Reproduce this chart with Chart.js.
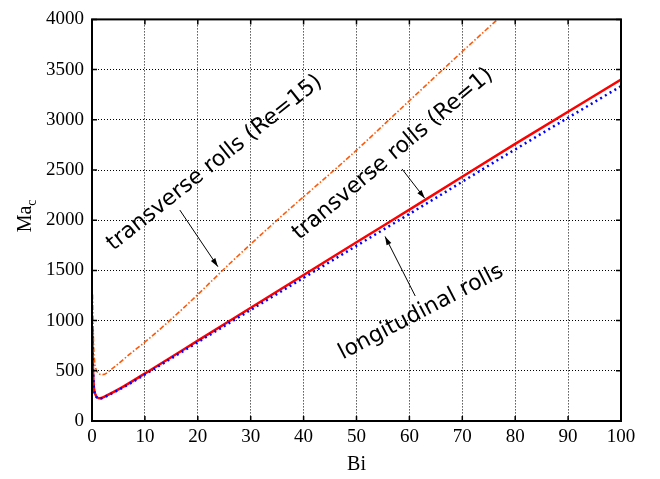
<!DOCTYPE html>
<html>
<head>
<meta charset="utf-8">
<script src="https://cdn.jsdelivr.net/npm/chart.js@4/dist/chart.umd.min.js"></script>
<style>
  body { margin: 0; background: #fff; }
  canvas { display: block; }
</style>
</head>
<body>
<canvas id="macChart" width="660" height="479"></canvas>
<script>
// values (Bi on x, Ma_c on y)
const biOrange = [0.1, 0.2, 0.3, 0.5, 0.9, 2.0, 4, 7, 11, 18, 26, 35.5, 48.8, 60, 70, 80];
const maOrange = [1260, 1000, 760, 590, 500, 462, 530, 660, 830, 1160, 1566, 2025, 2640, 3190, 3680, 4160];

const biRed = [0.03, 0.15, 0.3, 0.6, 1.5, 3, 6, 11, 20, 33.6, 50, 62.9, 80, 100];
const maRed = [915, 600, 380, 270, 226, 260, 345, 506, 800, 1245, 1780, 2200, 2760, 3400];

const biBlue = [0.03, 0.15, 0.3, 0.6, 1.5, 3, 6, 11, 20, 33.6, 50, 62.9, 80, 100];
const maBlue = [900, 590, 370, 265, 222, 255, 338, 495, 785, 1222, 1745, 2155, 2705, 3335];

const xTicks = [0, 10, 20, 30, 40, 50, 60, 70, 80, 90, 100];
const yTicks = [0, 500, 1000, 1500, 2000, 2500, 3000, 3500, 4000];

// annotation texts, anchored (left end of baseline) in data units
const labels = [
    { text: 'transverse rolls (Re=15)', bi: 4.0, ma: 1693, angle: -38.5 },
    { text: 'transverse rolls (Re=1)', bi: 39.2, ma: 1800, angle: -40 },
    { text: 'longitudinal rolls', bi: 47.4, ma: 613, angle: -27.5 }
];
const arrows = [
    { from: [16.6, 2101], to: [23.8, 1537] },
    { from: [58.6, 2510], to: [62.9, 2218] },
    { from: [61.1, 1245], to: [55.4, 1838] }
];

function toPoints(xs, ys) {
    return xs.map((x, i) => ({ x: x, y: ys[i] }));
}

const serif = "'Liberation Serif', 'Times New Roman', serif";

const framePlugin = {
    id: 'frame',
    afterDraw(chart) {
        const ctx = chart.ctx;
        const a = chart.chartArea;
        const xs = chart.scales.x, ys = chart.scales.y;
        ctx.save();
        // inward ticks
        ctx.strokeStyle = '#000';
        ctx.lineWidth = 1.5;
        ctx.beginPath();
        xTicks.forEach(v => {
            const px = xs.getPixelForValue(v);
            ctx.moveTo(px, a.bottom); ctx.lineTo(px, a.bottom - 5);
            ctx.moveTo(px, a.top); ctx.lineTo(px, a.top + 5);
        });
        yTicks.forEach(v => {
            const py = ys.getPixelForValue(v);
            ctx.moveTo(a.left, py); ctx.lineTo(a.left + 5, py);
            ctx.moveTo(a.right, py); ctx.lineTo(a.right - 5, py);
        });
        ctx.stroke();
        // box
        ctx.lineWidth = 2;
        ctx.strokeRect(a.left, a.top, a.right - a.left, a.bottom - a.top);

        // axis titles
        ctx.fillStyle = '#000';
        ctx.font = '20px ' + serif;
        ctx.textAlign = 'center';
        ctx.textBaseline = 'alphabetic';
        ctx.fillText('Bi', (a.left + a.right) / 2, 470);

        ctx.save();
        ctx.translate(31, 215);
        ctx.rotate(-Math.PI / 2);
        ctx.textAlign = 'left';
        ctx.font = '20px ' + serif;
        const w = ctx.measureText('Ma').width;
        ctx.fillText('Ma', -w / 2 - 4, 0);
        ctx.font = '14px ' + serif;
        ctx.fillText('c', w / 2 - 4, 5);
        ctx.restore();

        // annotations
        ctx.font = "22px 'DejaVu Sans', sans-serif";
        ctx.textAlign = 'left';
        ctx.textBaseline = 'alphabetic';
        labels.forEach(l => {
            ctx.save();
            ctx.translate(xs.getPixelForValue(l.bi), ys.getPixelForValue(l.ma));
            ctx.rotate(l.angle * Math.PI / 180);
            ctx.fillText(l.text, 0, 0);
            ctx.restore();
        });
        ctx.lineWidth = 1;
        arrows.forEach(ar => {
            const x1 = xs.getPixelForValue(ar.from[0]), y1 = ys.getPixelForValue(ar.from[1]);
            const x2 = xs.getPixelForValue(ar.to[0]), y2 = ys.getPixelForValue(ar.to[1]);
            const ang = Math.atan2(y2 - y1, x2 - x1);
            ctx.beginPath();
            ctx.moveTo(x1, y1);
            ctx.lineTo(x2, y2);
            ctx.stroke();
            ctx.beginPath();
            ctx.moveTo(x2, y2);
            ctx.lineTo(x2 - 9 * Math.cos(ang - 0.3), y2 - 9 * Math.sin(ang - 0.3));
            ctx.lineTo(x2 - 9 * Math.cos(ang + 0.3), y2 - 9 * Math.sin(ang + 0.3));
            ctx.closePath();
            ctx.fill();
        });
        ctx.restore();
    }
};

const ctx = document.getElementById('macChart');
new Chart(ctx, {
    type: 'line',
    data: {
        datasets: [
            {
                label: 'transverse rolls (Re=15)',
                data: toPoints(biOrange, maOrange),
                borderColor: '#ff5a0a',
                borderWidth: 1.6,
                borderDash: [5, 2, 1.5, 2],
                cubicInterpolationMode: 'monotone',
                pointRadius: 0,
                order: 2
            },
            {
                label: 'transverse rolls (Re=1)',
                data: toPoints(biRed, maRed),
                borderColor: '#ff0000',
                borderWidth: 2.5,
                cubicInterpolationMode: 'monotone',
                pointRadius: 0,
                order: 1
            },
            {
                label: 'longitudinal rolls',
                data: toPoints(biBlue, maBlue),
                borderColor: '#0000ff',
                borderWidth: 2.5,
                borderDash: [2, 3.5],
                cubicInterpolationMode: 'monotone',
                pointRadius: 0,
                order: 0
            }
        ]
    },
    options: {
        responsive: false,
        animation: false,
        devicePixelRatio: 1,
        layout: { padding: { top: 10, right: 39, left: 0, bottom: 0 } },
        plugins: {
            legend: { display: false },
            tooltip: { enabled: false }
        },
        scales: {
            x: {
                type: 'linear',
                min: 0,
                max: 100,
                afterBuildTicks: s => { s.ticks = xTicks.map(v => ({ value: v })); },
                afterFit: s => { s.height = 58; },
                grid: { color: '#000', lineWidth: 1, drawTicks: false },
                border: { display: false, dash: [1, 2] },
                ticks: { color: '#000', padding: 5, maxRotation: 0, font: { family: serif, size: 19 },
                         callback: v => String(v) }
            },
            y: {
                type: 'linear',
                min: 0,
                max: 4000,
                afterBuildTicks: s => { s.ticks = yTicks.map(v => ({ value: v })); },
                afterFit: s => { s.width = 92; },
                grid: { color: '#000', lineWidth: 1, drawTicks: false },
                border: { display: false, dash: [1, 2] },
                ticks: { color: '#000', padding: 8, font: { family: serif, size: 19 },
                         callback: v => String(v) }
            }
        }
    },
    plugins: [framePlugin]
});
</script>
</body>
</html>
